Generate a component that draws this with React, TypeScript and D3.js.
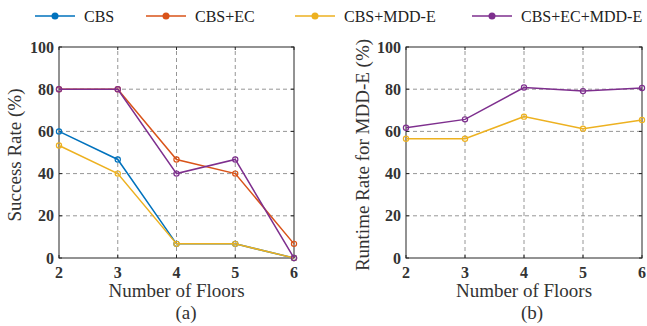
import React from "react";
import * as d3 from "d3";

const floors = [2, 3, 4, 5, 6];
const seriesNames = ["CBS", "CBS+EC", "CBS+MDD-E", "CBS+EC+MDD-E"];
const seriesColors = ["#0072BD", "#D95319", "#EDB120", "#7E2F8E"];

// (a) success rate
const successCBS = [60, 46.7, 6.7, 6.7, 0];
const successEC = [80, 80, 46.7, 40, 6.7];
const successMDD = [53.3, 40, 6.7, 6.7, 0];
const successECMDD = [80, 80, 40, 46.7, 0];

// (b) runtime rate
const runtimeMDD = [56.5, 56.5, 67, 61.3, 65.4];
const runtimeECMDD = [61.7, 65.7, 80.8, 79.1, 80.6];

const yTicks = [0, 20, 40, 60, 80, 100];
const FONT = "'Liberation Serif', 'Times New Roman', serif";

type S = { name: string; color: string; values: number[] };

const Panel = ({ x0, x1, series, ylabel, ylabelX, tag, tagX }:
  { x0: number; x1: number; series: S[]; ylabel: string; ylabelX: number; tag: string; tagX: number }) => {
  const x = d3.scaleLinear().domain([2, 6]).range([x0, x1]);
  const y = d3.scaleLinear().domain([0, 100]).range([258, 47]);
  const line = d3.line<number>().x((_, i) => x(floors[i])).y((d) => y(d));
  const axisColor = "#262626";
  return (
    <g>
      {/* grid */}
      {floors.slice(1, -1).map((f) => (
        <line key={"gx" + f} x1={x(f)} x2={x(f)} y1={y(0)} y2={y(100)} stroke="#8a8a8a" strokeDasharray="4,3" strokeWidth={0.9} />
      ))}
      {yTicks.slice(1, -1).map((t) => (
        <line key={"gy" + t} x1={x(2)} x2={x(6)} y1={y(t)} y2={y(t)} stroke="#8a8a8a" strokeDasharray="4,3" strokeWidth={0.9} />
      ))}
      {/* box */}
      <rect x={x(2)} y={y(100)} width={x(6) - x(2)} height={y(0) - y(100)} fill="none" stroke={axisColor} strokeWidth={1} />
      {floors.map((f) => (
        <g key={"tx" + f}>
          <line x1={x(f)} x2={x(f)} y1={y(0)} y2={y(0) - 3} stroke={axisColor} />
          <line x1={x(f)} x2={x(f)} y1={y(100)} y2={y(100) + 3} stroke={axisColor} />
          <text x={x(f)} y={y(0) + 20} textAnchor="middle" fontSize={16} fontWeight="bold" fill="#333">{f}</text>
        </g>
      ))}
      {yTicks.map((t) => (
        <g key={"ty" + t}>
          <line x1={x(2)} x2={x(2) + 3} y1={y(t)} y2={y(t)} stroke={axisColor} />
          <line x1={x(6)} x2={x(6) - 3} y1={y(t)} y2={y(t)} stroke={axisColor} />
          <text x={x(2) - 5} y={y(t) + 5.5} textAnchor="end" fontSize={16} fontWeight="bold" fill="#333">{t}</text>
        </g>
      ))}
      {/* series */}
      {series.map((s) => (
        <g key={s.name}>
          <path d={line(s.values) || ""} fill="none" stroke={s.color} strokeWidth={1.5} />
          {s.values.map((v, i) => (
            <circle key={i} cx={x(floors[i])} cy={y(v)} r={2.6} fill="none" stroke={s.color} strokeWidth={1.2} />
          ))}
        </g>
      ))}
      <text x={(x(2) + x(6)) / 2} y={297} textAnchor="middle" fontSize={19} fill="#333">Number of Floors</text>
      <text x={tagX} y={319} textAnchor="middle" fontSize={19} fill="#333">{tag}</text>
      <text transform={`translate(${ylabelX},155) rotate(-90)`} textAnchor="middle" fontSize={19} fill="#333">{ylabel}</text>
    </g>
  );
};

const legendX = [35, 146, 295, 472];

export default function App() {
  const seriesA: S[] = [successCBS, successEC, successMDD, successECMDD].map((v, i) => ({
    name: seriesNames[i], color: seriesColors[i], values: v,
  }));
  const seriesB: S[] = [
    { name: seriesNames[2], color: seriesColors[2], values: runtimeMDD },
    { name: seriesNames[3], color: seriesColors[3], values: runtimeECMDD },
  ];
  return (
    <svg width={647} height={326} style={{ position: "absolute", left: 0, top: 0, background: "#fff" }} fontFamily={FONT}>
      <rect width={647} height={326} fill="#fff" />
      {seriesNames.map((n, i) => (
        <g key={n} transform={`translate(${legendX[i]},16)`}>
          <line x1={0} x2={40} y1={0} y2={0} stroke={seriesColors[i]} strokeWidth={1.5} />
          <circle cx={20} cy={0} r={3.5} fill={seriesColors[i]} />
          <text x={49} y={5.5} fontSize={16} fill="#222">{n}</text>
        </g>
      ))}
      <Panel x0={59} x1={294} series={seriesA} ylabel="Success Rate (%)" ylabelX={21} tag="(a)" tagX={186} />
      <Panel x0={406} x1={642} series={seriesB} ylabel="Runtime Rate for MDD-E (%)" ylabelX={369} tag="(b)" tagX={532} />
    </svg>
  );
}
